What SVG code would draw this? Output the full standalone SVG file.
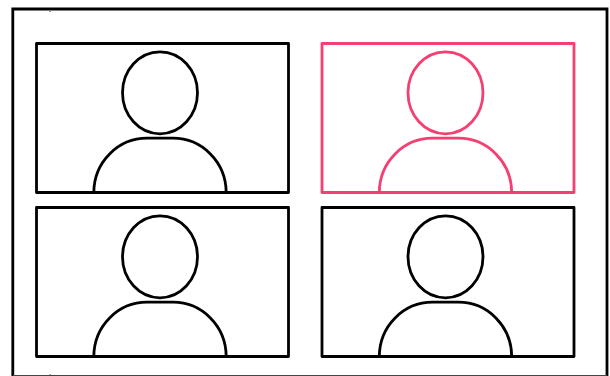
<svg xmlns="http://www.w3.org/2000/svg" width="610" height="376" viewBox="0 0 610 376">
<style>
.k{fill:none;stroke:#000;stroke-width:2.800;stroke-linejoin:round}
.p{fill:none;stroke:#f43f72;stroke-width:2.800;stroke-linejoin:round}
.s{fill:none;stroke:#999;stroke-width:1}
</style>
<defs>
<g id="person">
<rect x="36.500" y="43.500" width="252" height="149"/>
<ellipse cx="160" cy="92.800" rx="37.500" ry="41"/>
<path d="M93.800 192.500C94 162 118 138.200 147 138.200H173C202 138.200 226 162 226.200 192.500"/>
</g>
</defs>
<rect width="610" height="376" fill="#fff"/>
<path id="frame" d="M12.800 376V9H607V376" fill="none" stroke="#000" stroke-width="2.800"/>
<path d="M12.800 375.500H607" fill="none" stroke="#444" stroke-width="1"/>
<path class="s" d="M49 11.500H51M49.500 374.500H51"/>
<g id="tile-1" class="k"><use href="#person"/></g>
<g id="tile-2" class="p"><use href="#person" x="285.500"/></g>
<g id="tile-3" class="k"><use href="#person" y="164"/></g>
<g id="tile-4" class="k"><use href="#person" x="285.500" y="164"/></g>
</svg>
